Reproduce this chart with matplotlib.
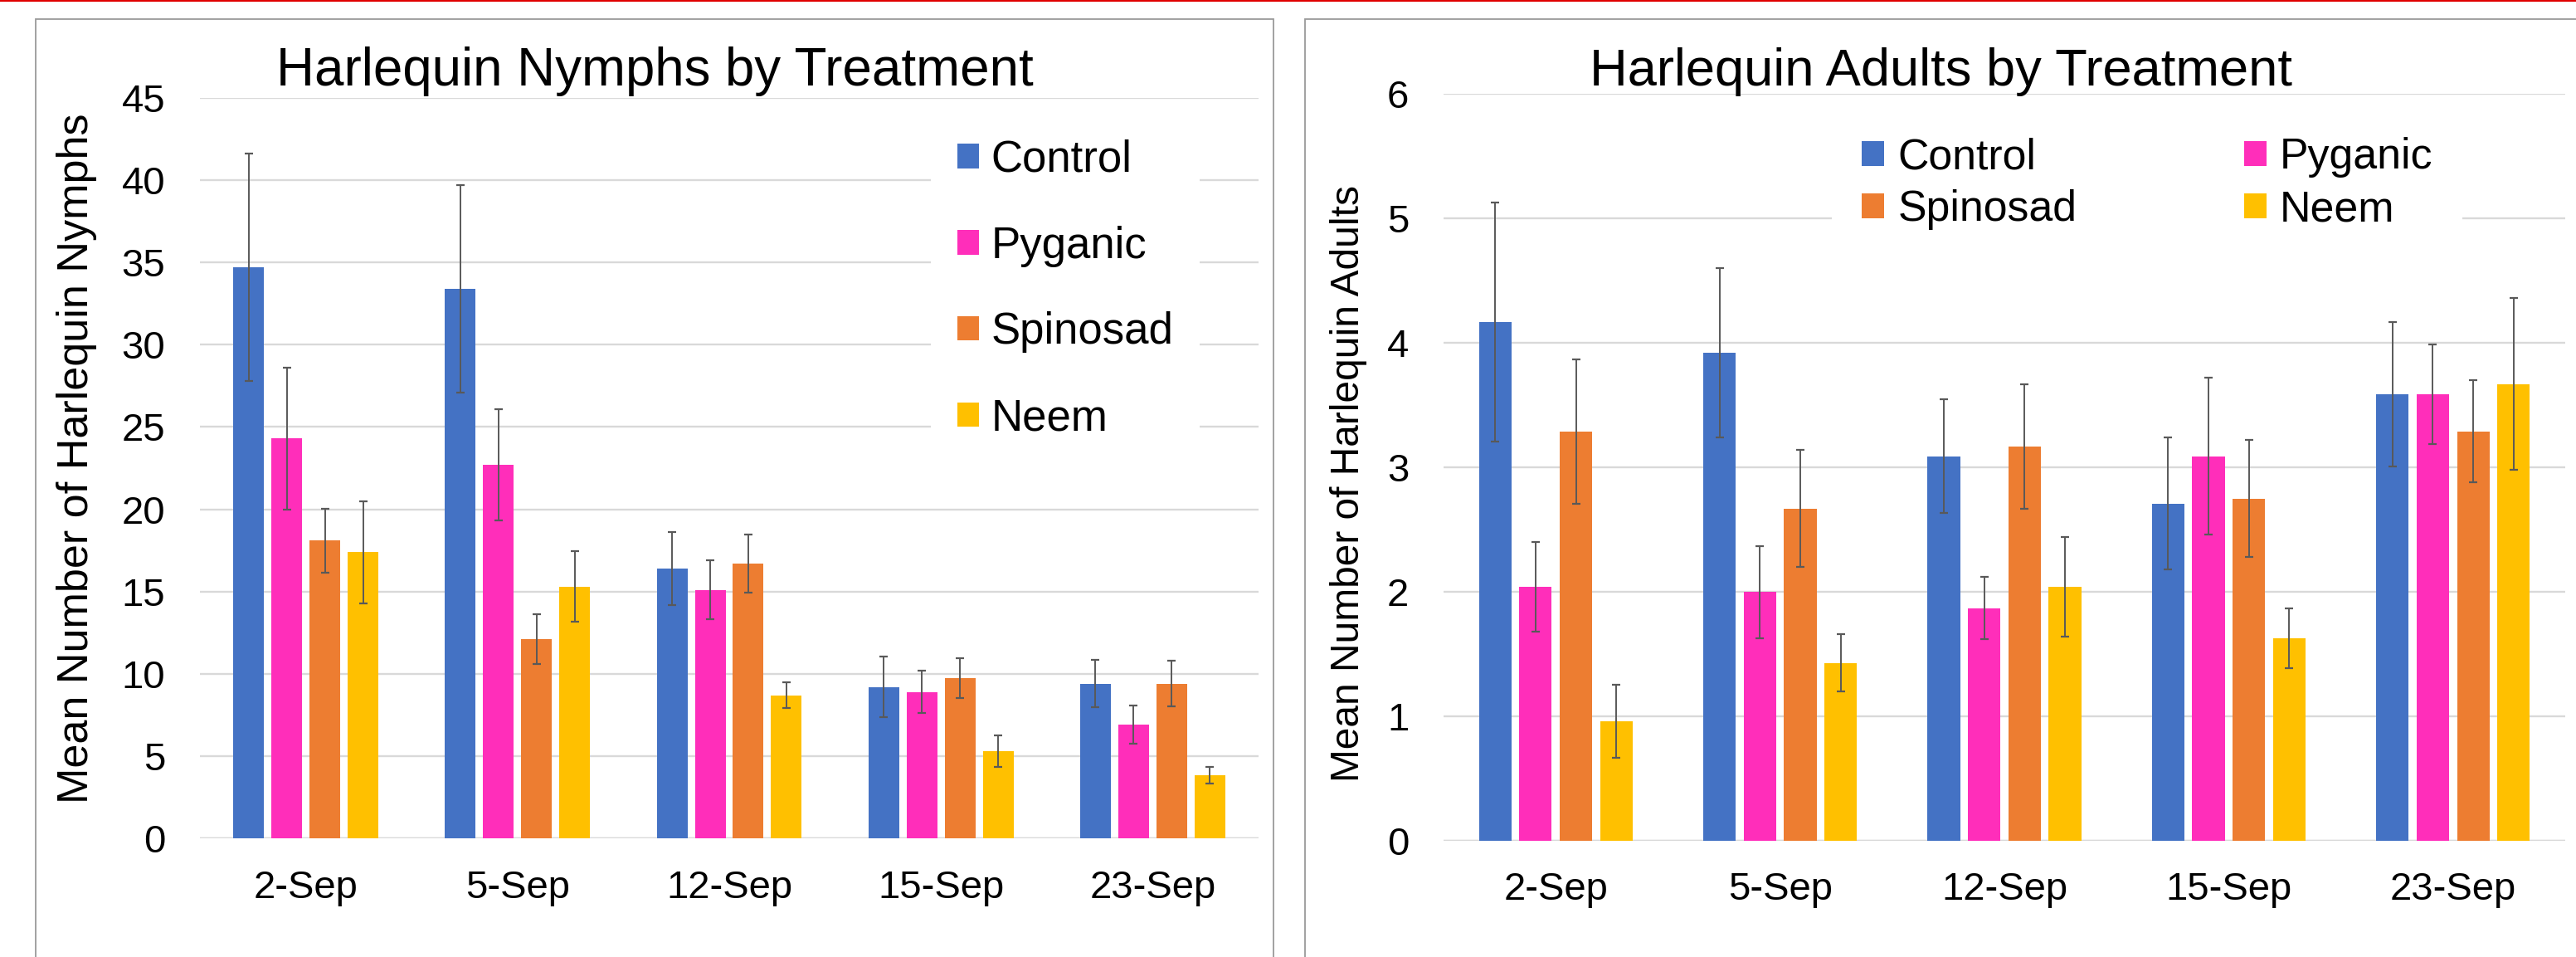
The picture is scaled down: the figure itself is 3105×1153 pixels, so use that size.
import numpy as np
import matplotlib
matplotlib.use("Agg")
import matplotlib.pyplot as plt
from matplotlib.patches import Rectangle, Patch
from matplotlib.lines import Line2D

plt.rcParams['font.family'] = ['Liberation Sans', 'DejaVu Sans']

categories = ['2-Sep', '5-Sep', '12-Sep', '15-Sep', '23-Sep']
treatments = ['Control', 'Pyganic', 'Spinosad', 'Neem']
colors = ['#4472C4', '#FF2EBA', '#ED7D31', '#FFC000']

nymph_control = [34.7, 33.4, 16.4, 9.2, 9.4]
nymph_control_err = [6.9, 6.3, 2.2, 1.85, 1.45]
nymph_pyganic = [24.3, 22.7, 15.1, 8.9, 6.9]
nymph_pyganic_err = [4.3, 3.4, 1.8, 1.3, 1.15]
nymph_spinosad = [18.1, 12.1, 16.7, 9.75, 9.4]
nymph_spinosad_err = [1.95, 1.5, 1.75, 1.2, 1.4]
nymph_neem = [17.4, 15.3, 8.7, 5.3, 3.85]
nymph_neem_err = [3.1, 2.15, 0.8, 0.97, 0.5]

adult_control = [4.17, 3.92, 3.09, 2.71, 3.59]
adult_control_err = [0.96, 0.68, 0.455, 0.53, 0.58]
adult_pyganic = [2.04, 2.0, 1.87, 3.09, 3.59]
adult_pyganic_err = [0.36, 0.37, 0.25, 0.63, 0.4]
adult_spinosad = [3.29, 2.67, 3.17, 2.75, 3.29]
adult_spinosad_err = [0.58, 0.47, 0.5, 0.47, 0.41]
adult_neem = [0.96, 1.43, 2.04, 1.63, 3.67]
adult_neem_err = [0.295, 0.23, 0.4, 0.24, 0.69]

nymph_ticks = [0, 5, 10, 15, 20, 25, 30, 35, 40, 45]
adult_ticks = [0, 1, 2, 3, 4, 5, 6]

W, H = 3105, 1153
DPI = 100
fig = plt.figure(figsize=(W / DPI, H / DPI), dpi=DPI)
fig.patch.set_facecolor('white')

def px(x0, y0, x1, y1):
    # convert pixel box (top-left origin) to figure fraction [l, b, w, h]
    return [x0 / W, 1 - y1 / H, (x1 - x0) / W, (y1 - y0) / H]

# panel borders and red top line
fig.add_artist(Rectangle((43 / W, -0.1), (1535 - 43) / W, 1.1 - 23 / H,
                         transform=fig.transFigure, fill=False,
                         edgecolor='#9a9a9a', lw=1.3))
fig.add_artist(Rectangle((1573 / W, -0.1), 0.6, 1.1 - 23 / H,
                         transform=fig.transFigure, fill=False,
                         edgecolor='#9a9a9a', lw=1.3))
fig.add_artist(Line2D([0, 1], [1 - 1 / H, 1 - 1 / H], transform=fig.transFigure,
                      color='#E00000', lw=1.6))

offsets = [-0.27, -0.09, 0.09, 0.27]
bw = 0.145

def draw(ax, series, errs, ticks):
    x = np.arange(len(categories))
    for i, (vals, err) in enumerate(zip(series, errs)):
        ax.bar(x + offsets[i], vals, bw, color=colors[i], zorder=3,
               label=treatments[i])
        ax.errorbar(x + offsets[i], vals, yerr=err, fmt='none',
                    ecolor='#595959', elinewidth=1.4, capsize=3.6,
                    capthick=1.6, zorder=4)
    ax.set_xlim(-0.5, len(categories) - 0.5)
    ax.set_ylim(ticks[0], ticks[-1])
    ax.set_yticks(ticks)
    ax.set_xticks(x)
    ax.set_xticklabels(categories)
    ax.grid(axis='y', color='#d9d9d9', lw=1.7, zorder=0)
    ax.set_axisbelow(True)
    for s in ax.spines.values():
        s.set_visible(False)
    ax.axhline(0, color='#d9d9d9', lw=1.7, zorder=2)
    ax.tick_params(axis='both', length=0, labelsize=34)
    ax.tick_params(axis='y', pad=30)
    ax.tick_params(axis='x', pad=27)

ax1 = fig.add_axes(px(241, 118, 1517, 1010))
draw(ax1, [nymph_control, nymph_pyganic, nymph_spinosad, nymph_neem],
     [nymph_control_err, nymph_pyganic_err, nymph_spinosad_err, nymph_neem_err],
     nymph_ticks)

ax2 = fig.add_axes(px(1740, 113, 3092, 1013))
draw(ax2, [adult_control, adult_pyganic, adult_spinosad, adult_neem],
     [adult_control_err, adult_pyganic_err, adult_spinosad_err, adult_neem_err],
     adult_ticks)

# titles
fig.text(789 / W, 1 - 103 / H, 'Harlequin Nymphs by Treatment', ha='center',
         va='baseline', fontsize=45.8)
fig.text(2340 / W, 1 - 103 / H, 'Harlequin Adults by Treatment', ha='center',
         va='baseline', fontsize=45.5)

# y labels
fig.text(93 / W, 1 - 552 / H, 'Mean Number of Harlequin Nymphs', rotation=90,
         ha='center', va='center', fontsize=37.5)
fig.text(1626 / W, 1 - 582 / H, 'Mean Number of Harlequin Adults', rotation=90,
         ha='center', va='center', fontsize=34.5)

# legends
handles = [Patch(facecolor=c, edgecolor='none') for c in colors]
fs1 = 38
leg1 = ax1.legend(handles, treatments, loc='upper left',
                  bbox_to_anchor=(1122 / W, 1 - 136 / H),
                  bbox_transform=fig.transFigure, fontsize=fs1, ncol=1,
                  frameon=True, fancybox=False, edgecolor='none',
                  facecolor='white', framealpha=1, borderpad=0.6,
                  handlelength=0.49, handleheight=0.49, handletextpad=0.28,
                  labelspacing=1.02, borderaxespad=0)

order = [0, 2, 1, 3]
fs2 = 37.4
leg2 = ax2.legend([handles[i] for i in order], [treatments[i] for i in order],
                  loc='upper left',
                  bbox_to_anchor=((2244 - 36) / W, 1 - (165 - 36) / H),
                  bbox_transform=fig.transFigure, fontsize=fs2, ncol=2,
                  frameon=True, fancybox=False, edgecolor='none',
                  facecolor='white', framealpha=1, borderpad=0.7,
                  handlelength=0.52, handleheight=0.52, handletextpad=0.31,
                  labelspacing=0.27, columnspacing=3.87, borderaxespad=0)

fig.savefig('out.png', dpi=DPI, facecolor='white')
